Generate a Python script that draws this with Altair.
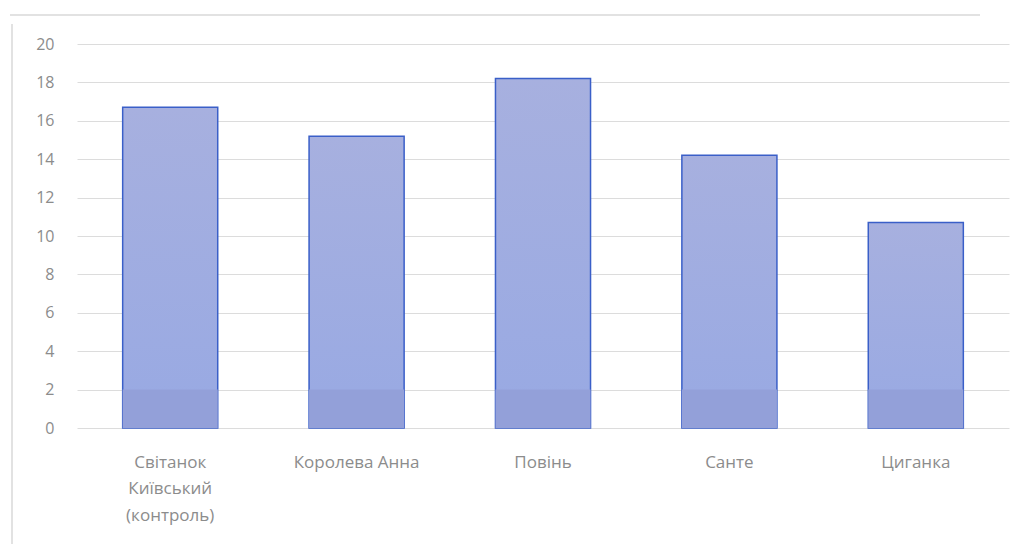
import altair as alt
import pandas as pd

categories = ["Світанок Київський (контроль)", "Королева Анна", "Повінь", "Санте", "Циганка"]
values = [16.7, 15.2, 18.2, 14.2, 10.7]
base_band = [2.0, 2.0, 2.0, 2.0, 2.0]
y_ticks = [0, 2, 4, 6, 8, 10, 12, 14, 16, 18, 20]

df = pd.DataFrame({"cat": categories, "value": values, "base": base_band})

FONT = "Open Sans"
LABEL = "#8c8c8c"

x_axis = alt.Axis(
    labelAngle=0,
    domain=False,
    ticks=False,
    labelPadding=34,
    labelFont=FONT,
    labelFontSize=17,
    labelColor=LABEL,
    labelLineHeight=26.5,
    labelBaseline="middle",
    labelExpr="datum.label == 'Світанок Київський (контроль)' ? ['Світанок', 'Київський', '(контроль)'] : datum.label",
)
x_scale = alt.Scale(paddingInner=0.49, paddingOuter=0.245)

y_axis = alt.Axis(
    values=y_ticks,
    labelOverlap=False,
    domain=False,
    ticks=False,
    labelPadding=23,
    labelFont=FONT,
    labelFontSize=16,
    labelColor=LABEL,
    gridColor="#dcdcdc",
    gridWidth=1,
)
y_scale = alt.Scale(domain=[0, 20], nice=False)

bars = alt.Chart(df).mark_bar(
    color=alt.Gradient(
        gradient="linear",
        x1=0, x2=0, y1=0, y2=1,
        stops=[alt.GradientStop(color="#a7b0df", offset=0),
               alt.GradientStop(color="#98a9e3", offset=1)],
    ),
    stroke="#3a5fc8",
    strokeWidth=1.5,
).encode(
    x=alt.X("cat:N", sort=categories, title=None, scale=x_scale, axis=x_axis),
    y=alt.Y("value:Q", scale=y_scale, title=None, axis=y_axis),
)

base = alt.Chart(df).mark_bar(color="#93a0d9").encode(
    x=alt.X("cat:N", sort=categories, title=None, scale=x_scale, axis=x_axis),
    y=alt.Y("base:Q", scale=y_scale, title=None, axis=y_axis),
)

frame_top = alt.Chart(df).mark_rule(color="#e2e2e2", strokeWidth=2).encode(
    x=alt.value(-67), x2=alt.value(903), y=alt.value(-29)
)
frame_left = alt.Chart(df).mark_rule(color="#e2e2e2", strokeWidth=2).encode(
    x=alt.value(-65), y=alt.value(-20), y2=alt.value(500)
)

chart = alt.layer(frame_top, frame_left, bars, base).properties(
    width=932,
    height=384,
    autosize=alt.AutoSizeParams(type="none"),
    padding={"left": 77, "top": 44, "right": 17, "bottom": 116},
    background="white",
).configure_view(stroke=None)

chart.save("out.html", embed_options={"renderer": "svg", "actions": False})
